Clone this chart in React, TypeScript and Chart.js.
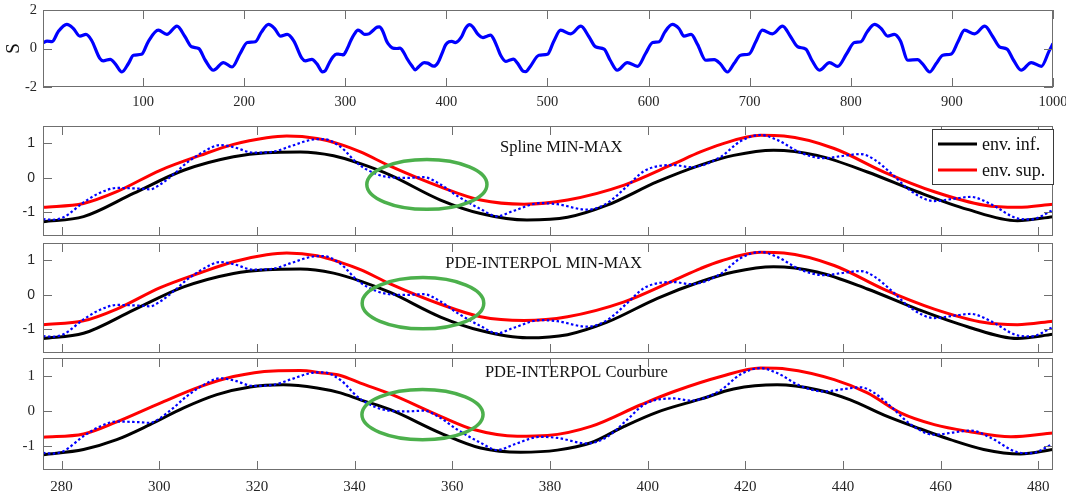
import React, { useEffect, useRef } from 'react';
import { Chart, registerables } from 'chart.js';

Chart.register(...registerables);

const W = 1066;
const H = 495;

// ---------- Top panel: signal S over 1..1000 ----------
const sigX = [1, 5, 10, 16, 24.5, 31, 37.5, 43.5, 49, 57, 60.5, 67.5, 72.5, 79, 85.5, 90.5, 98.5, 105, 115, 123.5, 133.5, 141.5, 148, 155, 161.5, 169.5, 179.5, 188, 196, 203, 211, 217, 224, 230, 236, 242.5, 249, 257, 260.5, 267, 272, 277.5, 280.4, 284.5, 287.9, 291.3, 294, 296.1, 298.1, 300.2, 302.9, 305.6, 309.1, 312.5, 315.2, 319.3, 323.4, 326.8, 331.6, 333.6, 337.1, 340.5, 342.5, 346.6, 350.7, 354.1, 357.6, 361, 365.8, 369.2, 372.6, 378, 381.5, 387.6, 391.7, 395.8, 399.2, 402.6, 405.4, 408.8, 414.9, 418.9, 423.1, 426.5, 431.3, 436.1, 440.2, 443.6, 446.4, 449.8, 453.9, 458.7, 462.8, 466.2, 470.3, 475.7, 478.5, 483, 491.5, 500, 506, 513, 523, 533, 541, 547.5, 556, 562, 569, 579, 589, 597, 604, 610.5, 616, 623.5, 630, 635, 642, 648.5, 656.5, 665, 671, 678, 684.5, 691, 699.5, 706, 712.5, 722.5, 732.5, 740.5, 747.5, 755.5, 761.5, 769, 779, 787, 796, 803.5, 810, 816, 823.5, 830, 836.5, 843, 849, 856.5, 866, 871, 878, 884.5, 891, 899.5, 906, 912.5, 922.5, 932.5, 940.5, 947, 954.5, 961, 968.5, 978.5, 988.5, 996, 1000];
const sigY = [0.29, 0.38, 0.36, 0.87, 1.25, 1.04, 0.64, 0.73, 0.43, -0.5, -0.64, -0.56, -0.8, -1.22, -0.78, -0.35, -0.3, 0.35, 0.95, 0.73, 1.16, 0.61, 0.09, 0.0, -0.61, -1.13, -0.73, -0.96, -0.26, 0.31, 0.35, 0.85, 1.25, 1.04, 0.64, 0.73, 0.4, -0.5, -0.64, -0.56, -0.8, -1.21, -1.14, -0.71, -0.43, -0.29, -0.3, -0.31, -0.33, -0.19, 0.1, 0.43, 0.76, 0.95, 0.89, 0.73, 0.76, 0.91, 1.11, 1.12, 0.9, 0.43, 0.24, 0.03, 0.0, 0.02, -0.19, -0.52, -0.9, -1.11, -0.95, -0.73, -0.76, -0.92, -0.73, -0.24, 0.19, 0.35, 0.37, 0.31, 0.6, 1.05, 1.24, 1.1, 0.73, 0.57, 0.64, 0.69, 0.53, 0.14, -0.38, -0.67, -0.6, -0.55, -0.76, -1.17, -1.2, -0.93, -0.35, -0.3, 0.35, 0.95, 0.76, 1.16, 0.61, 0.09, -0.03, -0.61, -1.13, -0.73, -0.93, -0.26, 0.31, 0.35, 0.85, 1.25, 1.04, 0.64, 0.73, 0.2, -0.61, -0.58, -0.8, -1.22, -0.78, -0.35, -0.28, 0.35, 0.95, 0.76, 1.16, 0.61, 0.09, -0.03, -0.61, -1.13, -0.73, -0.93, -0.26, 0.31, 0.35, 0.85, 1.25, 1.04, 0.64, 0.73, 0.4, -0.61, -0.58, -0.8, -1.22, -0.78, -0.35, -0.28, 0.35, 0.95, 0.76, 1.16, 0.61, 0.09, -0.03, -0.61, -1.13, -0.73, -0.93, -0.15, 0.26];

// ---------- Zoomed signal (276..483), same in the three lower panels ----------
const zoomX = [276.2, 278, 280.4, 284.5, 287.9, 291.3, 294, 296.1, 298.1, 300.2, 302.9, 305.6, 309.1, 312.5, 315.2, 319.3, 323.4, 326.8, 331.6, 333.6, 337.1, 340.5, 342.5, 346.6, 350.7, 354.1, 357.6, 361, 365.8, 369.2, 372.6, 378, 381.5, 387.6, 391.7, 395.8, 399.2, 402.6, 405.4, 408.8, 414.9, 418.9, 423.1, 426.5, 431.3, 436.1, 440.2, 443.6, 446.4, 449.8, 453.9, 458.7, 462.8, 466.2, 470.3, 475.7, 478.5, 483];
const zoomY = [-1.19, -1.21, -1.14, -0.71, -0.43, -0.29, -0.3, -0.31, -0.33, -0.19, 0.1, 0.43, 0.76, 0.95, 0.89, 0.73, 0.76, 0.91, 1.11, 1.12, 0.9, 0.43, 0.24, 0.03, 0.0, 0.02, -0.19, -0.52, -0.9, -1.11, -0.95, -0.73, -0.76, -0.92, -0.73, -0.24, 0.19, 0.35, 0.37, 0.31, 0.6, 1.05, 1.24, 1.1, 0.73, 0.57, 0.64, 0.69, 0.53, 0.14, -0.38, -0.67, -0.6, -0.55, -0.76, -1.17, -1.2, -0.93];

// ---------- Spline MIN-MAX envelopes ----------
const splineSupX = [276.2, 284.5, 291.3, 300.2, 308.4, 315.2, 322, 326.1, 332.3, 337.1, 341.2, 347.3, 357.6, 365.8, 374.7, 383.6, 395.2, 405.4, 410.8, 415, 423.1, 427.9, 438.2, 448.4, 458.7, 469, 475.7, 483];
const splineSupY = [-0.85, -0.74, -0.4, 0.22, 0.65, 0.97, 1.16, 1.21, 1.14, 0.97, 0.75, 0.34, -0.26, -0.64, -0.76, -0.64, -0.21, 0.41, 0.75, 0.97, 1.23, 1.21, 0.85, 0.17, -0.4, -0.79, -0.85, -0.76];
const splineInfX = [276.2, 284.5, 294.7, 305, 315.2, 322, 328.9, 335.7, 341.2, 347.3, 357.6, 365.8, 375.3, 383.6, 391.7, 402, 410.8, 417.6, 425.8, 434.7, 445, 455.2, 465.5, 475.7, 483];
const splineInfY = [-1.27, -1.12, -0.45, 0.22, 0.61, 0.73, 0.75, 0.64, 0.41, 0.08, -0.64, -1.03, -1.22, -1.14, -0.79, -0.11, 0.37, 0.65, 0.8, 0.65, 0.17, -0.4, -0.91, -1.24, -1.12];

// ---------- PDE-INTERPOL MIN-MAX envelopes ----------
const minmaxSupX = [276.2, 284.5, 291.3, 300.2, 308.4, 315.2, 322, 326.1, 332.3, 337.1, 341.2, 347.3, 357.6, 365.8, 374.7, 383.6, 395.2, 405.4, 410.8, 415, 423.1, 427.9, 438.2, 448.4, 458.7, 469, 475.7, 483];
const minmaxSupY = [-0.86, -0.75, -0.41, 0.21, 0.64, 0.96, 1.16, 1.21, 1.13, 0.94, 0.73, 0.32, -0.27, -0.63, -0.74, -0.63, -0.2, 0.42, 0.76, 0.98, 1.23, 1.21, 0.85, 0.16, -0.41, -0.8, -0.86, -0.76];
const minmaxInfX = [276.2, 284.5, 294.7, 305, 315.2, 322, 328.9, 335.7, 341.2, 347.3, 357.6, 365.8, 375.3, 383.6, 391.7, 402, 410.8, 417.6, 425.8, 434.7, 445, 455.2, 465.5, 475.7, 483];
const minmaxInfY = [-1.26, -1.11, -0.44, 0.23, 0.62, 0.73, 0.75, 0.63, 0.4, 0.07, -0.64, -1.03, -1.24, -1.15, -0.79, -0.1, 0.38, 0.66, 0.81, 0.66, 0.17, -0.41, -0.92, -1.26, -1.14];

// ---------- PDE-INTERPOL Courbure envelopes ----------
const courbSupX = [276.2, 284.5, 291.3, 300.2, 308.4, 315.2, 323.4, 328.9, 333, 337.1, 341.2, 347.3, 357.6, 364.4, 373.3, 379.5, 388.4, 398.6, 405.4, 415, 423.1, 428.6, 438.2, 445, 451.9, 458.7, 465.5, 474.4, 483];
const courbSupY = [-0.74, -0.65, -0.3, 0.24, 0.71, 1.0, 1.16, 1.17, 1.11, 1.03, 0.81, 0.5, -0.14, -0.52, -0.71, -0.69, -0.43, 0.19, 0.57, 1.0, 1.24, 1.21, 0.91, 0.53, -0.05, -0.38, -0.57, -0.73, -0.62];
const courbInfX = [276.2, 284.5, 291.3, 298.1, 305, 311.8, 318.6, 325.4, 332.3, 337.1, 341.2, 347.3, 357.6, 365.8, 374, 381.5, 388.4, 395.2, 402, 410.8, 417.6, 426.5, 434.7, 441.5, 448.3, 455.2, 462, 468.8, 476.3, 483];
const courbInfY = [-1.24, -1.09, -0.81, -0.38, 0.1, 0.48, 0.7, 0.76, 0.67, 0.53, 0.33, 0.05, -0.62, -1.05, -1.17, -1.11, -0.9, -0.43, -0.02, 0.35, 0.64, 0.76, 0.62, 0.33, -0.1, -0.47, -0.81, -1.09, -1.22, -1.09];

// ---------- Ticks / labels ----------
const topXTicks = [100, 200, 300, 400, 500, 600, 700, 800, 900, 1000];
const topYTicks = [-2, 0, 2];
const zoomXTicks = [280, 300, 320, 340, 360, 380, 400, 420, 440, 460, 480];
const zoomYTicks = [-1, 0, 1];
const topYLabel = 'S';
const legendLabels = ['env. inf.', 'env. sup.'];

const panelTitles = ['Spline MIN-MAX', 'PDE-INTERPOL MIN-MAX', 'PDE-INTERPOL Courbure'];
const titleXs = [382.3, 378.7, 385.4];
const titleYs = [0.86, 0.89, 1.11];

const ellipseCX = [354.8, 354.0, 353.9];
const ellipseCY = [-0.19, -0.24, -0.09];
const ellipseRX = [12.3, 12.45, 12.4];
const ellipseRY = [0.72, 0.74, 0.72];

const BLUE = '#0000ff';
const RED = '#ff0000';
const BLACK = '#000000';
const GREEN = '#4cb04c';
const AXIS = '#6f6f6f';
const TEXT = '#262626';
const SERIF = "'Liberation Serif', 'Times New Roman', serif";
const SANS = "'Liberation Sans', Arial, sans-serif";

const pts = (xs: number[], ys: number[]) => xs.map((x, i) => ({ x, y: ys[i] }));

interface Panel {
  top: number;
  bottom: number;
  xMin: number;
  xMax: number;
  yMin: number;
  yMax: number;
  xTicks: number[];
  yTicks: number[];
  xLabels: boolean;
  xLabelPad: number;
  yLabelPad: number;
  font: string;
  fontSize: number;
  datasets: any[];
  idx?: number;
  legend?: boolean;
  ylabel?: string;
}

const envDatasets = (supX: number[], supY: number[], infX: number[], infY: number[]) => [
  {
    label: 'signal',
    data: pts(zoomX, zoomY),
    borderColor: BLUE,
    borderWidth: 2.2,
    borderDash: [2.5, 2.4],
    pointRadius: 0,
    cubicInterpolationMode: 'monotone',
  },
  {
    label: legendLabels[1],
    data: pts(supX, supY),
    borderColor: RED,
    borderWidth: 3,
    pointRadius: 0,
    cubicInterpolationMode: 'monotone',
  },
  {
    label: legendLabels[0],
    data: pts(infX, infY),
    borderColor: BLACK,
    borderWidth: 3,
    pointRadius: 0,
    cubicInterpolationMode: 'monotone',
  },
];

const panels: Panel[] = [
  {
    top: 10, bottom: 87, xMin: 1, xMax: 1000, yMin: -2, yMax: 2,
    xTicks: topXTicks, yTicks: topYTicks, xLabels: true, xLabelPad: 6, yLabelPad: 6,
    font: SERIF, fontSize: 14.5, ylabel: topYLabel,
    datasets: [{
      label: 'S', data: pts(sigX, sigY), borderColor: BLUE, borderWidth: 3.2,
      pointRadius: 0, cubicInterpolationMode: 'monotone',
    }],
  },
  {
    top: 126, bottom: 236, xMin: 276.2, xMax: 483, yMin: -1.68, yMax: 1.5,
    xTicks: zoomXTicks, yTicks: zoomYTicks, xLabels: false, xLabelPad: 0, yLabelPad: 8,
    font: SANS, fontSize: 14, idx: 0, legend: true,
    datasets: envDatasets(splineSupX, splineSupY, splineInfX, splineInfY),
  },
  {
    top: 243, bottom: 353, xMin: 276.2, xMax: 483, yMin: -1.68, yMax: 1.5,
    xTicks: zoomXTicks, yTicks: zoomYTicks, xLabels: false, xLabelPad: 0, yLabelPad: 8,
    font: SANS, fontSize: 14, idx: 1,
    datasets: envDatasets(minmaxSupX, minmaxSupY, minmaxInfX, minmaxInfY),
  },
  {
    top: 358, bottom: 470, xMin: 276.2, xMax: 483, yMin: -1.68, yMax: 1.53,
    xTicks: zoomXTicks, yTicks: zoomYTicks, xLabels: true, xLabelPad: 8, yLabelPad: 8,
    font: SERIF, fontSize: 15, idx: 2,
    datasets: envDatasets(courbSupX, courbSupY, courbInfX, courbInfY),
  },
];

const TICK_LEN = 9;
const Y_AXIS_W = 40;
const X_AXIS_H = 30;

const makePlugin = (p: Panel) => ({
  id: 'matlabAxes',
  afterDraw(chart: any) {
    const { ctx, chartArea: a, scales } = chart;
    const xs = scales.x;
    const ys = scales.y;
    ctx.save();

    // green ellipse and panel title
    if (p.idx !== undefined) {
      const i = p.idx;
      const cx = xs.getPixelForValue(ellipseCX[i]);
      const cy = ys.getPixelForValue(ellipseCY[i]);
      const rx = Math.abs(xs.getPixelForValue(ellipseCX[i] + ellipseRX[i]) - cx);
      const ry = Math.abs(ys.getPixelForValue(ellipseCY[i] + ellipseRY[i]) - cy);
      ctx.beginPath();
      ctx.ellipse(cx, cy, rx, ry, 0, 0, Math.PI * 2);
      ctx.strokeStyle = GREEN;
      ctx.lineWidth = 3.5;
      ctx.stroke();

      ctx.font = `16.5px ${SERIF}`;
      ctx.fillStyle = '#111';
      ctx.textAlign = 'center';
      ctx.textBaseline = 'middle';
      ctx.fillText(panelTitles[i], xs.getPixelForValue(titleXs[i]), ys.getPixelForValue(titleYs[i]));
    }

    // box
    ctx.strokeStyle = AXIS;
    ctx.lineWidth = 1;
    ctx.strokeRect(Math.round(a.left) + 0.5, Math.round(a.top) + 0.5, Math.round(a.width) - 1, Math.round(a.height) - 1);

    // inward ticks on all four sides
    ctx.beginPath();
    p.xTicks.forEach((v) => {
      const x = Math.round(xs.getPixelForValue(v)) + 0.5;
      ctx.moveTo(x, a.top);
      ctx.lineTo(x, a.top + TICK_LEN);
      ctx.moveTo(x, a.bottom);
      ctx.lineTo(x, a.bottom - TICK_LEN);
    });
    p.yTicks.forEach((v) => {
      const y = Math.round(ys.getPixelForValue(v)) + 0.5;
      ctx.moveTo(a.left, y);
      ctx.lineTo(a.left + TICK_LEN, y);
      ctx.moveTo(a.right, y);
      ctx.lineTo(a.right - TICK_LEN, y);
    });
    ctx.stroke();

    // y label
    if (p.ylabel) {
      ctx.save();
      ctx.translate(14, (a.top + a.bottom) / 2);
      ctx.rotate(-Math.PI / 2);
      ctx.font = `19px ${SERIF}`;
      ctx.fillStyle = '#111';
      ctx.textAlign = 'center';
      ctx.textBaseline = 'middle';
      ctx.fillText(p.ylabel, 0, 0);
      ctx.restore();
    }

    // legend
    if (p.legend) {
      const right = a.right + 1;
      const left = right - 122;
      const top = a.top + 3;
      const h = 56;
      ctx.fillStyle = '#ffffff';
      ctx.fillRect(left, top, right - left, h);
      ctx.strokeStyle = '#3a3a3a';
      ctx.lineWidth = 1;
      ctx.strokeRect(Math.round(left) + 0.5, Math.round(top) + 0.5, right - left - 1, h - 1);
      const items = [
        { label: legendLabels[0], color: BLACK },
        { label: legendLabels[1], color: RED },
      ];
      items.forEach((it, k) => {
        const y = top + 15 + k * 26;
        ctx.beginPath();
        ctx.moveTo(left + 6, y);
        ctx.lineTo(left + 45, y);
        ctx.strokeStyle = it.color;
        ctx.lineWidth = 3;
        ctx.stroke();
        ctx.font = `18px ${SERIF}`;
        ctx.fillStyle = '#111';
        ctx.textAlign = 'left';
        ctx.textBaseline = 'middle';
        ctx.fillText(it.label, left + 50, y + 1);
      });
    }
    ctx.restore();
  },
});

const zeroPad = (s: any) => {
  s.paddingTop = 0;
  s.paddingBottom = 0;
  s.paddingLeft = 0;
  s.paddingRight = 0;
};

function PanelChart({ p }: { p: Panel }) {
  const ref = useRef<HTMLCanvasElement>(null);
  useEffect(() => {
    if (!ref.current) return;
    const xH = p.xLabels ? X_AXIS_H : 0;
    const chart = new Chart(ref.current, {
      type: 'line',
      data: { datasets: p.datasets },
      options: {
        responsive: false,
        animation: false,
        devicePixelRatio: 1,
        events: [],
        layout: {
          padding: { left: 43 - Y_AXIS_W, right: W - 1053, top: p.top, bottom: H - p.bottom - xH },
        },
        plugins: { legend: { display: false }, tooltip: { enabled: false }, title: { display: false } },
        scales: {
          x: {
            type: 'linear',
            min: p.xMin,
            max: p.xMax,
            grid: { display: false, drawTicks: false },
            border: { display: false },
            ticks: {
              display: p.xLabels,
              padding: p.xLabelPad,
              autoSkip: false,
              maxRotation: 0,
              color: TEXT,
              font: { family: p.font, size: p.fontSize },
              callback: (v: any) => String(v),
            },
            afterBuildTicks: (s: any) => {
              s.ticks = p.xTicks.map((v) => ({ value: v }));
            },
            afterFit: (s: any) => {
              s.height = xH;
              zeroPad(s);
            },
          },
          y: {
            type: 'linear',
            min: p.yMin,
            max: p.yMax,
            grid: { display: false, drawTicks: false },
            border: { display: false },
            ticks: {
              padding: p.yLabelPad,
              autoSkip: false,
              color: TEXT,
              font: { family: p.font, size: p.fontSize },
              callback: (v: any) => String(v),
            },
            afterBuildTicks: (s: any) => {
              s.ticks = p.yTicks.map((v) => ({ value: v }));
            },
            afterFit: (s: any) => {
              s.width = Y_AXIS_W;
              zeroPad(s);
            },
          },
        },
      } as any,
      plugins: [makePlugin(p)],
    });
    return () => chart.destroy();
  }, [p]);
  return (
    <canvas
      ref={ref}
      width={W}
      height={H}
      style={{ position: 'absolute', left: 0, top: 0, width: W, height: H }}
    />
  );
}

export default function App() {
  return (
    <div style={{ position: 'absolute', left: 0, top: 0, width: W, height: H, background: '#fff' }}>
      {panels.map((p, i) => (
        <PanelChart key={i} p={p} />
      ))}
    </div>
  );
}
